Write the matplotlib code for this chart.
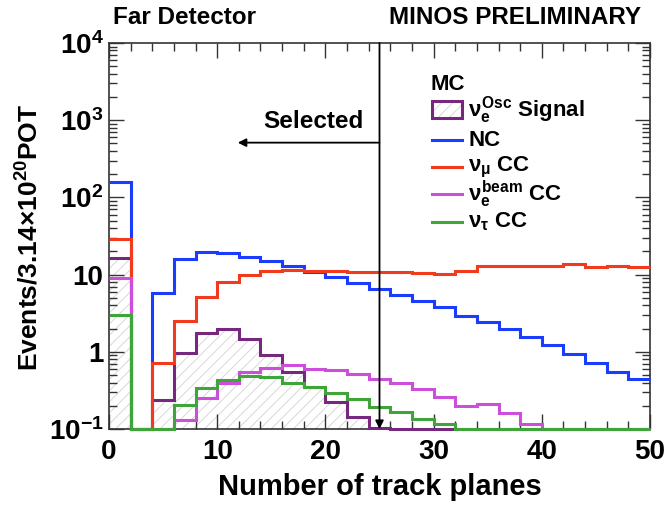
#!/usr/bin/env python3
# -*- coding: utf-8 -*-
"""
Far Detector MC: number of track planes per event, broken down by
interaction type, with the selection cut at 25 planes.
"""

import numpy as np
import matplotlib
matplotlib.use("Agg")
import matplotlib.pyplot as plt
from matplotlib.ticker import FixedLocator, MultipleLocator, LogLocator, NullFormatter

plt.rcParams['font.family'] = ['Liberation Sans', 'DejaVu Sans']
plt.rcParams['font.weight'] = 'bold'
plt.rcParams['mathtext.fontset'] = 'custom'
plt.rcParams['mathtext.rm'] = 'Liberation Sans:bold'
plt.rcParams['mathtext.it'] = 'Liberation Sans:bold'
plt.rcParams['mathtext.bf'] = 'Liberation Sans:bold'
plt.rcParams['hatch.linewidth'] = 0.6

# bin edges: 2 planes per bin, 0..50
edges = np.arange(0, 52, 2)

# events per bin (3.14e20 POT)
signal = [16.3, 0, 0.238, 0.975, 1.73, 1.95, 1.45, 0.92, 0.54, 0.35, 0.226, 0.145, 0.104,
          0, 0, 0, 0, 0, 0, 0, 0, 0, 0, 0, 0]
nc = [160, 0, 5.7, 16.1, 19.8, 19.2, 17.1, 14.9, 12.8, 10.7, 9.2, 7.7, 6.6,
      5.4, 4.55, 3.77, 2.91, 2.43, 1.97, 1.54, 1.22, 0.95, 0.72, 0.55, 0.44]
numu_cc = [28.9, 0, 0.71, 2.53, 5.2, 8.1, 9.9, 11.1, 11.5, 11.3, 11.1, 10.9, 10.8,
           10.7, 10.5, 10.3, 11.3, 12.8, 13.0, 13.0, 13.0, 13.9, 12.4, 13.0, 12.4]
nue_beam_cc = [9.1, 0, 0, 0.131, 0.249, 0.40, 0.553, 0.62, 0.668, 0.605, 0.58, 0.515, 0.44,
               0.40, 0.327, 0.262, 0.199, 0.211, 0.16, 0.116, 0, 0, 0, 0, 0]
nutau_cc = [3.0, 0, 0, 0.205, 0.336, 0.43, 0.49, 0.476, 0.40, 0.35, 0.29, 0.242, 0.19,
            0.168, 0.135, 0.116, 0, 0, 0, 0, 0, 0, 0, 0, 0]

cut = 25
ymin, ymax = 0.1, 1e4

c_sig = '#75287e'
c_nc = '#1a3cff'
c_numu = '#f23b1c'
c_beam = '#cc4fdc'
c_tau = '#3fa53a'
c_hatch = '#d2d2d2'

fig = plt.figure(figsize=(6.65, 5.09), dpi=100)
ax = fig.add_axes([109 / 665, 80 / 509, 541 / 665, 386 / 509])
ax.set_yscale('log')
ax.set_xlim(0, 50)
ax.set_ylim(ymin, ymax)

def floor(v):
    # empty bins sit on the lower edge of the frame
    return np.clip(np.asarray(v, dtype=float), ymin, None)

# signal: hatched area under the histogram
sig = floor(signal)
ax.fill_between(edges, np.append(sig, sig[-1]), ymin, step='post',
                facecolor='none', edgecolor=c_hatch, hatch='///', linewidth=0, zorder=1)

for vals, col in [(signal, c_sig), (nc, c_nc), (numu_cc, c_numu),
                  (nue_beam_cc, c_beam), (nutau_cc, c_tau)]:
    ax.stairs(floor(vals), edges, baseline=None, color=col, linewidth=2.2,
              clip_on=False, zorder=3)

# selection cut
ax.annotate('', xy=(cut, ymin), xytext=(cut, ymax),
            arrowprops=dict(arrowstyle='-|>', color='black', lw=1.3,
                            mutation_scale=12, shrinkA=0, shrinkB=0), zorder=4)
ax.annotate('', xy=(11.9, 512), xytext=(cut, 512),
            arrowprops=dict(arrowstyle='-|>', color='black', lw=1.3,
                            mutation_scale=12, shrinkA=0, shrinkB=0), zorder=4)
ax.text(18.85, 950, 'Selected', fontsize=17.5, fontweight='bold',
        ha='center', va='center')

# axes, ticks
ax.xaxis.set_major_locator(MultipleLocator(10))
ax.xaxis.set_minor_locator(MultipleLocator(2))
ax.yaxis.set_major_locator(FixedLocator([0.1, 1, 10, 100, 1000, 10000]))
ax.yaxis.set_minor_locator(LogLocator(base=10, subs=np.arange(2, 10)))
ax.yaxis.set_minor_formatter(NullFormatter())
ax.set_yticklabels([r'$10^{-1}$', '1', '10', r'$10^{2}$', r'$10^{3}$', r'$10^{4}$'])
ax.tick_params(which='both', direction='in', top=True, right=True,
               width=1.0, color='#333333', labelsize=20)
ax.tick_params(axis='x', which='major', length=11, pad=7)
ax.tick_params(axis='x', which='minor', length=5.5)
ax.tick_params(axis='y', which='major', length=11, pad=4)
ax.tick_params(axis='y', which='minor', length=5.5)
for lab in ax.get_xticklabels() + ax.get_yticklabels():
    lab.set_fontweight('bold')
for sp in ax.spines.values():
    sp.set_linewidth(1.2)
    sp.set_color('#333333')

ax.set_xlabel('Number of track planes', fontsize=21, fontweight='bold', labelpad=6)

def px(x, y):
    return x / 665, 1 - y / 509

fig.text(*px(30, 237), r'Events/3.14$\times$10$^{20}$POT', fontsize=19, fontweight='bold',
         rotation=90, ha='center', va='center')

fig.text(113 / 665, 1 - 18 / 509, 'Far Detector', fontsize=17.5, fontweight='bold',
         ha='left', va='center')
fig.text(641 / 665, 1 - 18 / 509, 'MINOS PRELIMINARY', fontsize=17.5, fontweight='bold',
         ha='right', va='center')

# legend
fig.text(*px(430, 85), 'MC', fontsize=16, fontweight='bold', ha='left', va='center')
fig.add_artist(plt.Rectangle(px(433, 117), 28 / 665, 15 / 509, transform=fig.transFigure,
                             facecolor='none', edgecolor=c_hatch, hatch='///', linewidth=0))
fig.add_artist(plt.Rectangle(px(432, 118), 30 / 665, 17 / 509, transform=fig.transFigure,
                             facecolor='none', edgecolor=c_sig, linewidth=2.2))

entries = [
    (140, c_nc, 'NC'),
    (167, c_numu, r'$\nu_{\mu}$ CC'),
    (194, c_beam, r'$\nu_{e}^{beam}$ CC'),
    (222, c_tau, r'$\nu_{\tau}$ CC'),
]
fig.text(*px(468, 110), r'$\nu_{e}^{Osc}$ Signal', fontsize=16, fontweight='bold',
         ha='left', va='center')
for y, col, lab in entries:
    x0, yy = px(432, y)
    x1, _ = px(462, y)
    fig.add_artist(plt.Line2D([x0, x1], [yy, yy], transform=fig.transFigure,
                              color=col, linewidth=2.2))
    fig.text(*px(468, y), lab, fontsize=16, fontweight='bold', ha='left', va='center')

fig.savefig('out.png', dpi=100)
